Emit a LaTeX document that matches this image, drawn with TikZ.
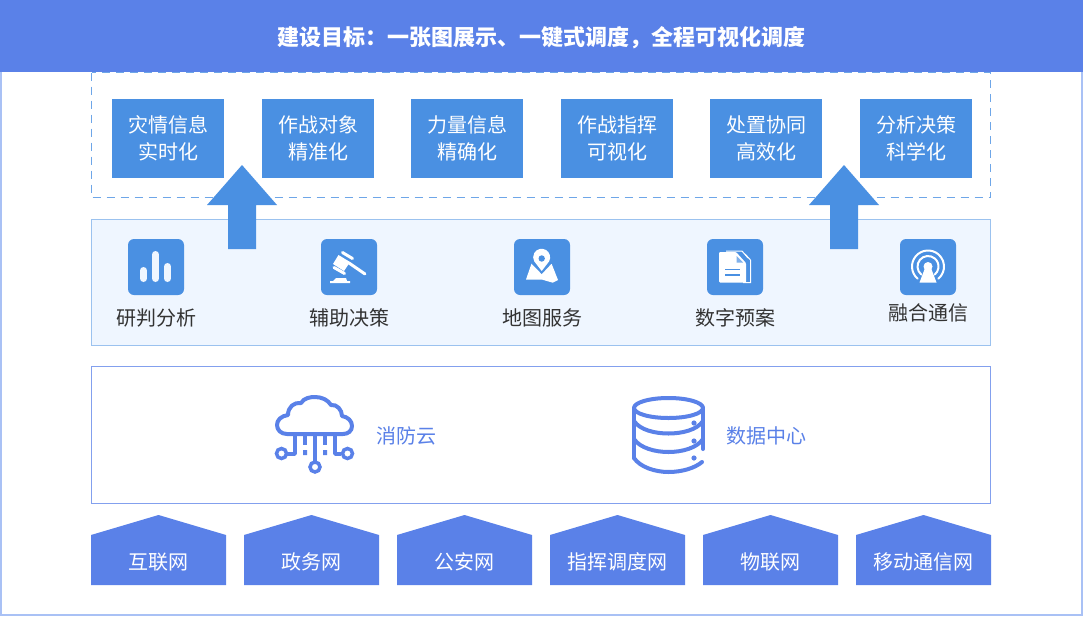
\documentclass[tikz,border=0pt]{standalone}
\usepackage{fontspec}
\setmainfont{Noto Sans CJK SC}
\definecolor{headblue}{HTML}{5A81E8}
\definecolor{boxblue}{HTML}{4A90E2}
\definecolor{framblue}{HTML}{A9C1F5}
\definecolor{panelblue}{HTML}{EFF6FF}
\definecolor{darktext}{HTML}{333333}
\tikzset{
  txt/.style={inner sep=0pt,font=\fontsize{20}{27}\selectfont,align=center},
  goalbox/.style={fill=boxblue,text=white,txt,minimum width=112pt,minimum height=79pt},
  iconbox/.style={fill=boxblue,rounded corners=6pt,minimum size=56pt,inner sep=0pt},
  netbox/.style={fill=headblue},
  upar/.style={fill=boxblue},
  ico/.style={draw=headblue,line width=4pt,line cap=round,line join=round},
  wht/.style={fill=panelblue,draw=none}
}
\begin{document}
\begin{tikzpicture}[x=1pt,y=-1pt]
\useasboundingbox(0,0)rectangle(1083,616);
\fill[white](0,0)rectangle(1083,616);
\draw[framblue,line width=2pt](1,1)rectangle(1082,615);
\fill[headblue](0,0)rectangle(1083,72);
\node[txt,text=white,font=\fontsize{22}{26}\selectfont\bfseries](title)at(541,38){建设目标：一张图展示、一键式调度，全程可视化调度};
% goal row
\draw[boxblue!80,line width=1pt,dash pattern=on 8pt off 6pt](91.5,72.5)rectangle(990.5,197.5);
\foreach \x/\n/\a/\b in {168/g1/灾情信息/实时化,318/g2/作战对象/精准化,467/g3/力量信息/精确化,617/g4/作战指挥/可视化,766/g5/处置协同/高效化,916/g6/分析决策/科学化}{
  \node[goalbox](\n)at(\x,138.5){\a\\\b};
}
% tool panel
\draw[fill=panelblue,draw=boxblue!55,line width=1pt](91.5,219.5)rectangle(990.5,345.5);
\foreach \x/\n/\a/\y in {156/t1/研判分析/318,349/t2/辅助决策/318,542/t3/地图服务/318,735/t4/数字预案/318,928/t5/融合通信/312.5}{
  \node[iconbox](\n)at(\x,267){};
  \node[txt,text=darktext](\n l)at(\x,\y){\a};
}
% chart
\foreach \x/\y in {143.5/270.5,155.5/254.5,167.5/266.5}{\draw[panelblue,line width=7pt,line cap=round](\x,\y)--(\x,278.5);}
% gavel
\draw[white,line width=3pt,line cap=round](349,263)--(365,274);
\fill[white](338.5,255)--(350,262)--(344,271)--(333,264)--cycle;
\draw[white,line width=3pt,line cap=round](342.5,252.5)--(352.5,258.5);
\draw[white,line width=3pt,line cap=round](334,267.5)--(344.5,273.5);
\fill[white](336,278)--(346,278)--(347,281)--(350,281)--(350,283)--(330,283)--(330,281)--(333,281)--cycle;
% map
\fill[white](531.7,263)--(526,279.5)--(541.7,279.5)--(552.7,282.7)--(558,280)--(551.7,264)--cycle;
\fill[boxblue](541.7,258)circle(9)(530,262)--(553,262)--(541.7,274)--cycle;
\fill[white](534.4,261.5)arc(150:-150+360:0)--(541.7,271)--(549,261.5)arc[start angle=30,end angle=-210,radius=8.5]--cycle;
\fill[boxblue](541.7,258.5)circle(3.2);
% doc
\draw[white,line width=1pt](745,254)--(750.5,260)--(750.5,282.5)--(743,282.5);
\draw[white,line width=1pt](726,251)--(742,251)--(748,258);
\fill[white,rounded corners=1pt](719,252)--(736,252)--(746,263)--(746,282.5)--(719,282.5)--cycle;
\fill[boxblue!70](736.5,256)--(736.5,262.5)--(743,262.5)--cycle;
\draw[boxblue,line width=1.3pt](725,269.5)--(740,269.5)(725,275)--(740,275);
% signal
\draw[white,line width=2pt,line cap=round](928,266.5)++(130:16)arc[start angle=130,end angle=410,radius=16];
\draw[white,line width=2pt,line cap=round](928,266.5)++(130:10.5)arc[start angle=130,end angle=410,radius=10.5];
\fill[white](928,266.5)circle(4.5);
\fill[white](925,268)--(931,268)--(936.5,282.5)--(919.5,282.5)--cycle;
% arrows
\fill[upar](242,165)--(277,205)--(256,205)--(256,249)--(228,249)--(228,205)--(207,205)--cycle;
\fill[upar](844,165)--(879,205)--(858,205)--(858,249)--(830,249)--(830,205)--(809,205)--cycle;
% middle
\draw[headblue!75,line width=1pt](91.5,366.5)rectangle(990.5,503);
\node[txt,text=headblue](cloudl)at(406,436){消防云};
\node[txt,text=headblue](datal)at(766,436){数据中心};
% cloud
\draw[ico](287,434).. controls (281,434) and (277,430) .. (277,425).. controls (277,420) and (281,416) .. (288,415).. controls (288,407) and (294,402) .. (301,403).. controls (304,398) and (310,397) .. (315,397).. controls (322,397) and (328,400) .. (331,405).. controls (337,404) and (342,410) .. (342,416).. controls (348,417) and (352,421) .. (352,426).. controls (352,431) and (348,434) .. (343,434)--cycle;
\draw[ico,line width=3.5pt,line cap=butt](295,434)--(295,454)--(287,454)(335,434)--(335,454)--(341,454)(315,434)--(315,461)(305,434)--(305,445)(325,434)--(325,445);
\fill[headblue](303,450)rectangle(307,455)(323,450)rectangle(327,455);
\draw[headblue,line width=3.5pt](281.5,453.5)circle(5)(347.5,453.5)circle(5)(315,467)circle(5);
% database
\draw[ico](668.5,408)ellipse(34.5 and 10);
\draw[ico](634,408)--(634,458)(703,408)--(703,449);
\draw[ico](634,421).. controls (640,430) and (655,433.5) .. (668.5,433.5).. controls (682,433.5) and (697,430) .. (703,421);
\draw[ico](634,439).. controls (640,448) and (655,452) .. (668.5,452).. controls (682,452) and (697,448) .. (703,439);
\draw[ico](634,458).. controls (640,467) and (655,472) .. (668.5,472).. controls (682,472) and (695,468) .. (702,462);
\foreach \y in {423,441,458}{\fill[headblue](694,\y)circle(2.6);}
% networks
\foreach \x/\n/\a in {91/n1/互联网,244/n2/政务网,397/n3/公安网,550/n4/指挥调度网,703/n5/物联网,856/n6/移动通信网}{
  \fill[netbox](\x,585)--(\x,535)--(\x+67.5,515)--(\x+135,535)--(\x+135,585)--cycle;
  \node[txt,text=white](\n)at(\x+67.5,562){\a};
}
\end{tikzpicture}
\end{document}
